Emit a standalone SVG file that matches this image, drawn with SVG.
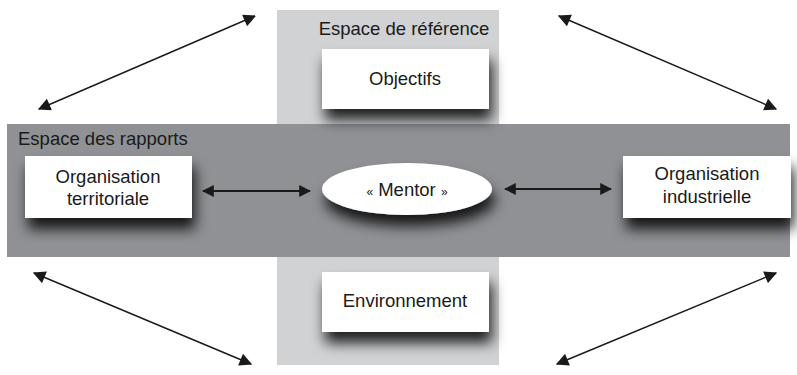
<svg xmlns="http://www.w3.org/2000/svg" width="797" height="375" viewBox="0 0 797 375">
  <style>
    .lbl { font-family: "Liberation Sans", Arial, sans-serif; font-size: 18.5px; fill: #1a1a1a; text-anchor: middle; }
    .title { font-family: "Liberation Sans", Arial, sans-serif; font-size: 18.5px; fill: #1a1a1a; }
    .box { fill: #ffffff; filter: url(#shadow); }
    .link { stroke: #1a1a1a; stroke-width: 2; fill: none; marker-start: url(#head); marker-end: url(#head); }
    .diag { stroke: #1a1a1a; stroke-width: 1.4; fill: none; marker-start: url(#headS); marker-end: url(#headS); }
  </style>
  <defs>
    <filter id="shadow" x="-30%" y="-40%" width="160%" height="220%">
      <feDropShadow dx="3" dy="11" stdDeviation="7" flood-color="#000000" flood-opacity="0.85"/>
    </filter>
    <marker id="head" viewBox="0 0 10 10" refX="9" refY="5" markerWidth="6" markerHeight="6" orient="auto-start-reverse" markerUnits="strokeWidth">
      <path d="M0,0 L10,5 L0,10 Z" fill="#1a1a1a"/>
    </marker>
    <marker id="headS" viewBox="0 0 10 10" refX="9" refY="5" markerWidth="10" markerHeight="9" orient="auto-start-reverse" markerUnits="strokeWidth">
      <path d="M0,0 L10,5 L0,10 Z" fill="#1a1a1a"/>
    </marker>
  </defs>

  <!-- Vertical band: reference space -->
  <rect id="espace-reference" x="277" y="10" width="222" height="355" fill="#d1d2d4"/>
  <!-- Horizontal band: relationship space -->
  <rect id="espace-rapports" x="7" y="124" width="783" height="133" fill="#8f9195"/>

  <text class="title" x="404" y="35" text-anchor="middle">Espace de référence</text>
  <text class="title" x="18" y="145">Espace des rapports</text>

  <!-- Connectors -->
  <g id="connectors">
    <line class="link" x1="203" y1="191" x2="310" y2="191"/>
    <line class="link" x1="505" y1="189" x2="611" y2="189"/>
    <line class="diag" x1="39" y1="109" x2="255" y2="16"/>
    <line class="diag" x1="559" y1="16" x2="776" y2="109"/>
    <line class="diag" x1="34" y1="273" x2="251" y2="364"/>
    <line class="diag" x1="557" y1="364" x2="776" y2="273"/>
  </g>

  <g id="objectifs">
    <rect class="box" x="322" y="49" width="167" height="60"/>
    <text class="lbl" x="405" y="85">Objectifs</text>
  </g>

  <g id="organisation-territoriale">
    <rect class="box" x="25" y="156" width="167" height="62"/>
    <text class="lbl" x="108" y="183">Organisation</text>
    <text class="lbl" x="108" y="205">territoriale</text>
  </g>

  <g id="mentor">
    <ellipse cx="407" cy="189" rx="85" ry="26" fill="#ffffff" filter="url(#shadow)"/>
    <text class="lbl" x="407" y="196"><tspan font-size="12">«</tspan> Mentor <tspan font-size="12">»</tspan></text>
  </g>

  <g id="organisation-industrielle">
    <rect class="box" x="623" y="156" width="168" height="62"/>
    <text class="lbl" x="707" y="180">Organisation</text>
    <text class="lbl" x="707" y="203">industrielle</text>
  </g>

  <g id="environnement">
    <rect class="box" x="322" y="272" width="167" height="60"/>
    <text class="lbl" x="405" y="307">Environnement</text>
  </g>
</svg>
